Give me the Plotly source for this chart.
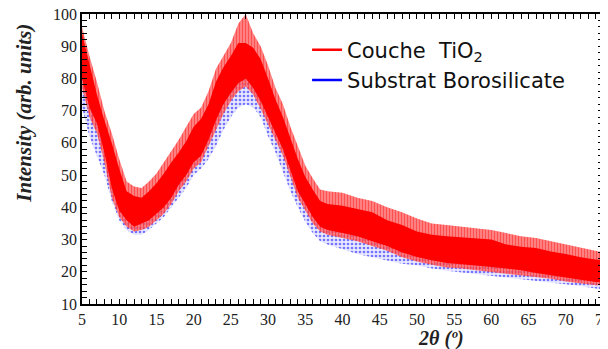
import plotly.graph_objects as go

# 2-theta sample positions (degrees)
two_theta = [5, 6, 7, 8, 9, 10, 11, 12, 13, 14, 15, 16, 17, 18, 19, 20, 21, 22, 23, 24,
             25, 26, 27, 28, 29, 30, 31, 32, 33, 34, 35, 36, 37, 38, 40, 42, 44, 46, 48,
             50, 52, 54, 56, 58, 60, 62, 64, 66, 68, 70, 72, 74, 75]

# Couche TiO2 : dense part of the noise band (lower / upper envelope)
tio2_low = [80, 71, 66, 57, 46, 39, 36, 34, 35, 36, 38, 40, 43, 47, 50, 54, 56, 61, 67, 72,
            75.5, 78.5, 80, 77, 73, 68, 63, 58, 51.5, 45, 41, 37, 34, 33, 32, 31, 29.5, 28,
            26, 24.6, 23.6, 22.7, 22.3, 22, 21.5, 21, 20.5, 19.6, 19, 18.2, 17.5, 16.8, 16.8]
tio2_high = [94, 84, 75, 67, 60, 52, 45, 43.5, 43, 45, 47.5, 50.5, 54, 57, 60.5, 65, 67.5, 72, 79, 83.5,
             87, 91, 91, 89.5, 86, 80, 73.5, 68, 61.5, 55, 49.5, 45.5, 42, 41, 40.5, 39.5, 38.5, 36,
             34.5, 32.5, 31.5, 31, 30.7, 30.5, 30, 28.5, 27.8, 27.4, 26.3, 25.5, 24.5, 23.8, 23.5]
# Couche TiO2 : extent of the spikes
tio2_spk_low = [77, 68, 63, 54, 43, 37, 34, 32.5, 33, 34, 36, 38, 41, 45, 48, 52, 54, 59, 64, 69,
                73, 76, 77.5, 75, 70.5, 65.5, 61, 56, 49.5, 43, 39, 35, 32.5, 31.5, 30.5, 29.5, 28, 26.5,
                24.5, 23.2, 22.2, 21.3, 21, 20.5, 20, 19.5, 19, 18.3, 17.8, 17, 16.3, 15.8, 15.8]
tio2_spk_high = [96, 87, 79, 70, 63, 55, 48, 46.5, 46, 48, 50.5, 54, 57.5, 61, 65, 69, 71, 76, 83, 87,
                 91, 97, 100, 94, 90, 84, 77, 72, 65, 59, 53, 49, 45.5, 45, 44.5, 43, 42, 40,
                 38.5, 36.5, 35, 34.5, 34, 33.5, 33, 32, 31, 30.5, 29.5, 28.5, 27.5, 26.5, 26]

# Substrat Borosilicate : noise band (lower / upper envelope)
boro_low = [71, 62, 56, 50, 42, 36, 33, 31.5, 31.5, 33, 35, 37, 40, 43, 46, 50, 52, 55, 59, 64,
            68, 71, 72, 71, 68, 62, 57, 51, 45, 40, 35.5, 32, 29.5, 28.5, 27, 25.5, 24.5, 23.5,
            22.5, 22, 21, 20.3, 19.8, 19.3, 18.8, 18.3, 17.8, 17.2, 16.7, 16.2, 15.6, 14.8, 14.5]
boro_high = [86, 76, 70, 62, 53, 45, 40, 38.5, 38.5, 40, 42.5, 45, 48, 52, 55, 59, 61, 66, 73, 78,
             81, 84, 85, 83, 79, 74, 68, 63, 56, 50, 45, 41, 38, 37, 36, 35, 34, 32, 30,
             28.5, 27.5, 27, 26.5, 26, 25.5, 24.7, 24, 23.5, 22.7, 22, 21, 20.3, 20]

x_ticks = [5, 10, 15, 20, 25, 30, 35, 40, 45, 50, 55, 60, 65, 70, 75]
y_ticks = [10, 20, 30, 40, 50, 60, 70, 80, 90, 100]

RED = "rgb(255,0,0)"
BLUE = "rgb(0,0,255)"
NOLINE = dict(color="rgba(0,0,0,0)", width=0)

fig = go.Figure()

# substrate band (underneath), dotted texture
fig.add_trace(go.Scatter(x=two_theta, y=boro_low, mode="lines", line=NOLINE,
                         showlegend=False, hoverinfo="skip"))
fig.add_trace(go.Scatter(x=two_theta, y=boro_high, mode="lines", fill="tonexty", line=NOLINE,
                         fillcolor="rgba(150,150,255,0.22)",
                         fillpattern=dict(shape=".", fgcolor=BLUE, size=4, solidity=0.35),
                         showlegend=False, hoverinfo="skip"))

# TiO2 spikes
fig.add_trace(go.Scatter(x=two_theta, y=tio2_spk_low, mode="lines", line=NOLINE,
                         showlegend=False, hoverinfo="skip"))
fig.add_trace(go.Scatter(x=two_theta, y=tio2_spk_high, mode="lines", fill="tonexty", line=NOLINE,
                         fillcolor="rgba(255,120,120,0.7)",
                         fillpattern=dict(shape="|", fgcolor=RED, size=3, solidity=0.6),
                         showlegend=False, hoverinfo="skip"))
# TiO2 dense band
fig.add_trace(go.Scatter(x=two_theta, y=tio2_low, mode="lines", line=NOLINE,
                         showlegend=False, hoverinfo="skip"))
fig.add_trace(go.Scatter(x=two_theta, y=tio2_high, mode="lines", fill="tonexty", line=NOLINE,
                         fillcolor=RED, showlegend=False, hoverinfo="skip"))

# legend entries (line symbols)
fig.add_trace(go.Scatter(x=[None], y=[None], mode="lines", line=dict(color=BLUE, width=2.5),
                         name="Substrat Borosilicate"))
fig.add_trace(go.Scatter(x=[None], y=[None], mode="lines", line=dict(color=RED, width=2.5),
                         name="Couche  TiO<sub>2</sub>"))

axis_common = dict(
    showline=True, linecolor="black", linewidth=1.5, mirror="allticks",
    ticks="inside", ticklen=5, tickcolor="black", tickwidth=1,
    showgrid=False, zeroline=False, automargin=False, ticklabeloverflow="allow",
    tickfont=dict(family="Liberation Serif", size=16, color="#222"),
)

fig.update_xaxes(range=[5, 75], tickvals=x_ticks,
                 minor=dict(dtick=1, ticks="inside", ticklen=5, tickcolor="black", tickwidth=1),
                 **axis_common)
fig.update_yaxes(range=[10, 100], tickvals=y_ticks,
                 minor=dict(dtick=2, ticks="inside", ticklen=5, tickcolor="black", tickwidth=1),
                 **axis_common)

fig.add_annotation(text="<b><i>Intensity (arb. units)</i></b>", textangle=-90,
                   xref="paper", yref="paper", x=-0.111, y=0.657, showarrow=False,
                   xanchor="center", yanchor="middle",
                   font=dict(family="Liberation Serif", size=21, color="#222"))
fig.add_annotation(text="<b><i>2θ (º)</i></b>",
                   xref="paper", yref="paper", x=0.689, y=-0.12, showarrow=False,
                   xanchor="center", yanchor="middle",
                   font=dict(family="Liberation Serif", size=20, color="#222"))

fig.update_layout(
    width=600, height=341,
    margin=dict(l=74, r=5, t=6, b=45),
    paper_bgcolor="white", plot_bgcolor="white",
    legend=dict(x=0.432, y=0.946, xanchor="left", yanchor="top",
                traceorder="reversed", tracegroupgap=4,
                bgcolor="rgba(0,0,0,0)",
                font=dict(family="DejaVu Sans", size=21, color="#111")),
)

fig.write_html("out.html")
